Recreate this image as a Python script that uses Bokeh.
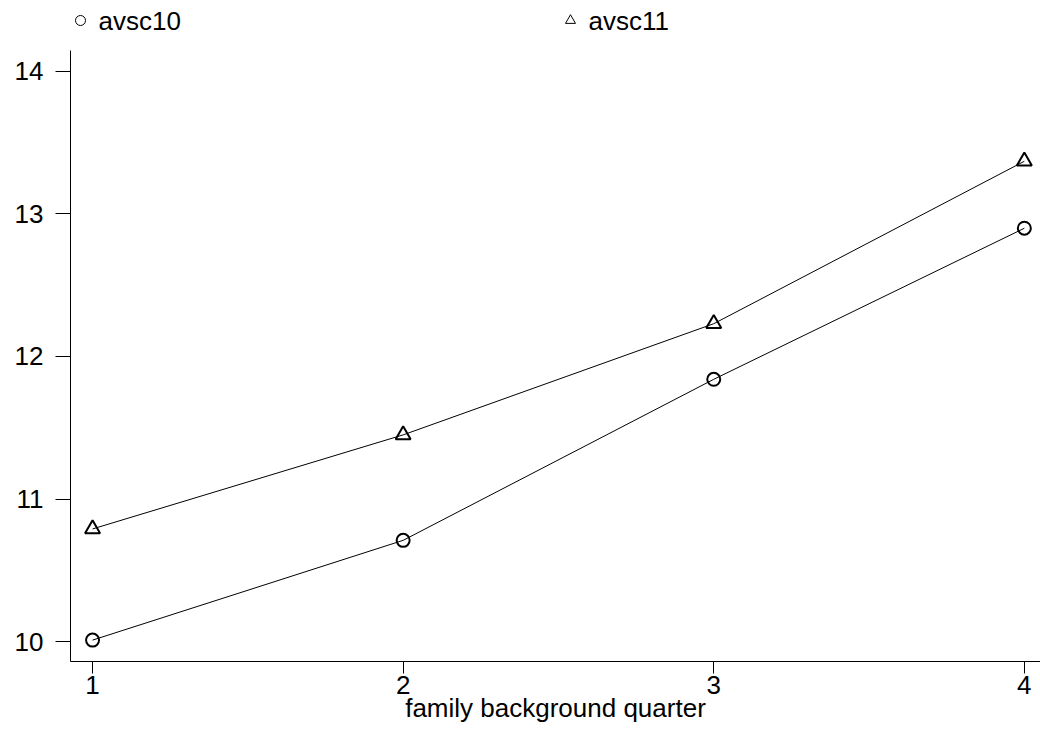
from bokeh.plotting import figure
from bokeh.layouts import column
from bokeh.models import Range1d, FixedTicker, ColumnDataSource
from bokeh.core.properties import value
from bokeh.embed import file_html
from bokeh.resources import INLINE

# Average scores by family background quarter
quarter = [1, 2, 3, 4]
avsc10 = [10.01, 10.71, 11.84, 12.90]
avsc11 = [10.79, 11.45, 12.23, 13.37]
y_ticks = [10, 11, 12, 13, 14]
series_names = ["avsc10", "avsc11"]
series_markers = ["circle", "triangle"]

FONT = "Liberation Sans"
FS = "26px"
W, H_KEY, H_MAIN = 1040, 50, 683
LEFT = 70

# ---- key strip above the plot (pixel-like coordinates; frames are aligned
# with the main plot, so its x range starts at the left border) ----
key = figure(width=W, height=H_KEY, output_backend="svg", toolbar_location=None,
             x_range=Range1d(LEFT, W), y_range=Range1d(0, H_KEY),
             min_border=0, min_border_left=LEFT, outline_line_color=None)
key.axis.visible = False
key.grid.visible = False
key_x = [80, 570]
key_src = ColumnDataSource(dict(x=key_x, y=[30, 30], marker=series_markers,
                                label=series_names, tx=[x + 18 for x in key_x]))
key.scatter("x", "y", source=key_src, marker="marker", size=10, fill_color=None,
            line_color="black", line_width=1)
key.text("tx", "y", text="label", source=key_src, text_font=value(FONT),
         text_font_size=FS, text_baseline="middle", text_align="left", text_color="black")

# ---- main plot ----
p = figure(width=W, height=H_MAIN, output_backend="svg", toolbar_location=None,
           x_range=Range1d(0.929, 4.052), y_range=Range1d(9.86, 14.147),
           min_border_left=LEFT, min_border_right=0, min_border_top=0, min_border_bottom=72)
p.outline_line_color = None
p.xgrid.grid_line_color = None
p.ygrid.grid_line_color = None

src10 = ColumnDataSource(dict(x=quarter, y=avsc10))
src11 = ColumnDataSource(dict(x=quarter, y=avsc11))

p.line("x", "y", source=src10, line_color="black", line_width=1)
p.line("x", "y", source=src11, line_color="black", line_width=1)
p.scatter("x", "y", source=src10, marker="circle", size=13, fill_color=None,
          line_color="black", line_width=2)
p.scatter("x", "y", source=src11, marker="triangle", size=15, fill_color=None,
          line_color="black", line_width=2)

for ax in (p.xaxis[0], p.yaxis[0]):
    ax.axis_line_color = "black"
    ax.major_tick_line_color = "black"
    ax.minor_tick_line_color = None
    ax.major_tick_in = 0
    ax.major_label_text_font = FONT
    ax.major_label_text_font_size = FS
    ax.major_label_text_color = "black"

p.xaxis.ticker = FixedTicker(ticks=quarter)
p.yaxis.ticker = FixedTicker(ticks=y_ticks)
p.xaxis.major_tick_out = 12
p.yaxis.major_tick_out = 15
p.yaxis.major_label_standoff = 12
p.xaxis.major_label_standoff = 2
p.xaxis.axis_label = "family background quarter"
p.xaxis.axis_label_text_font = FONT
p.xaxis.axis_label_text_font_size = FS
p.xaxis.axis_label_text_font_style = "normal"
p.xaxis.axis_label_text_color = "black"
p.xaxis.axis_label_standoff = -4

layout = column(key, p, spacing=0)
open("out.html", "w").write(file_html(layout, INLINE))
